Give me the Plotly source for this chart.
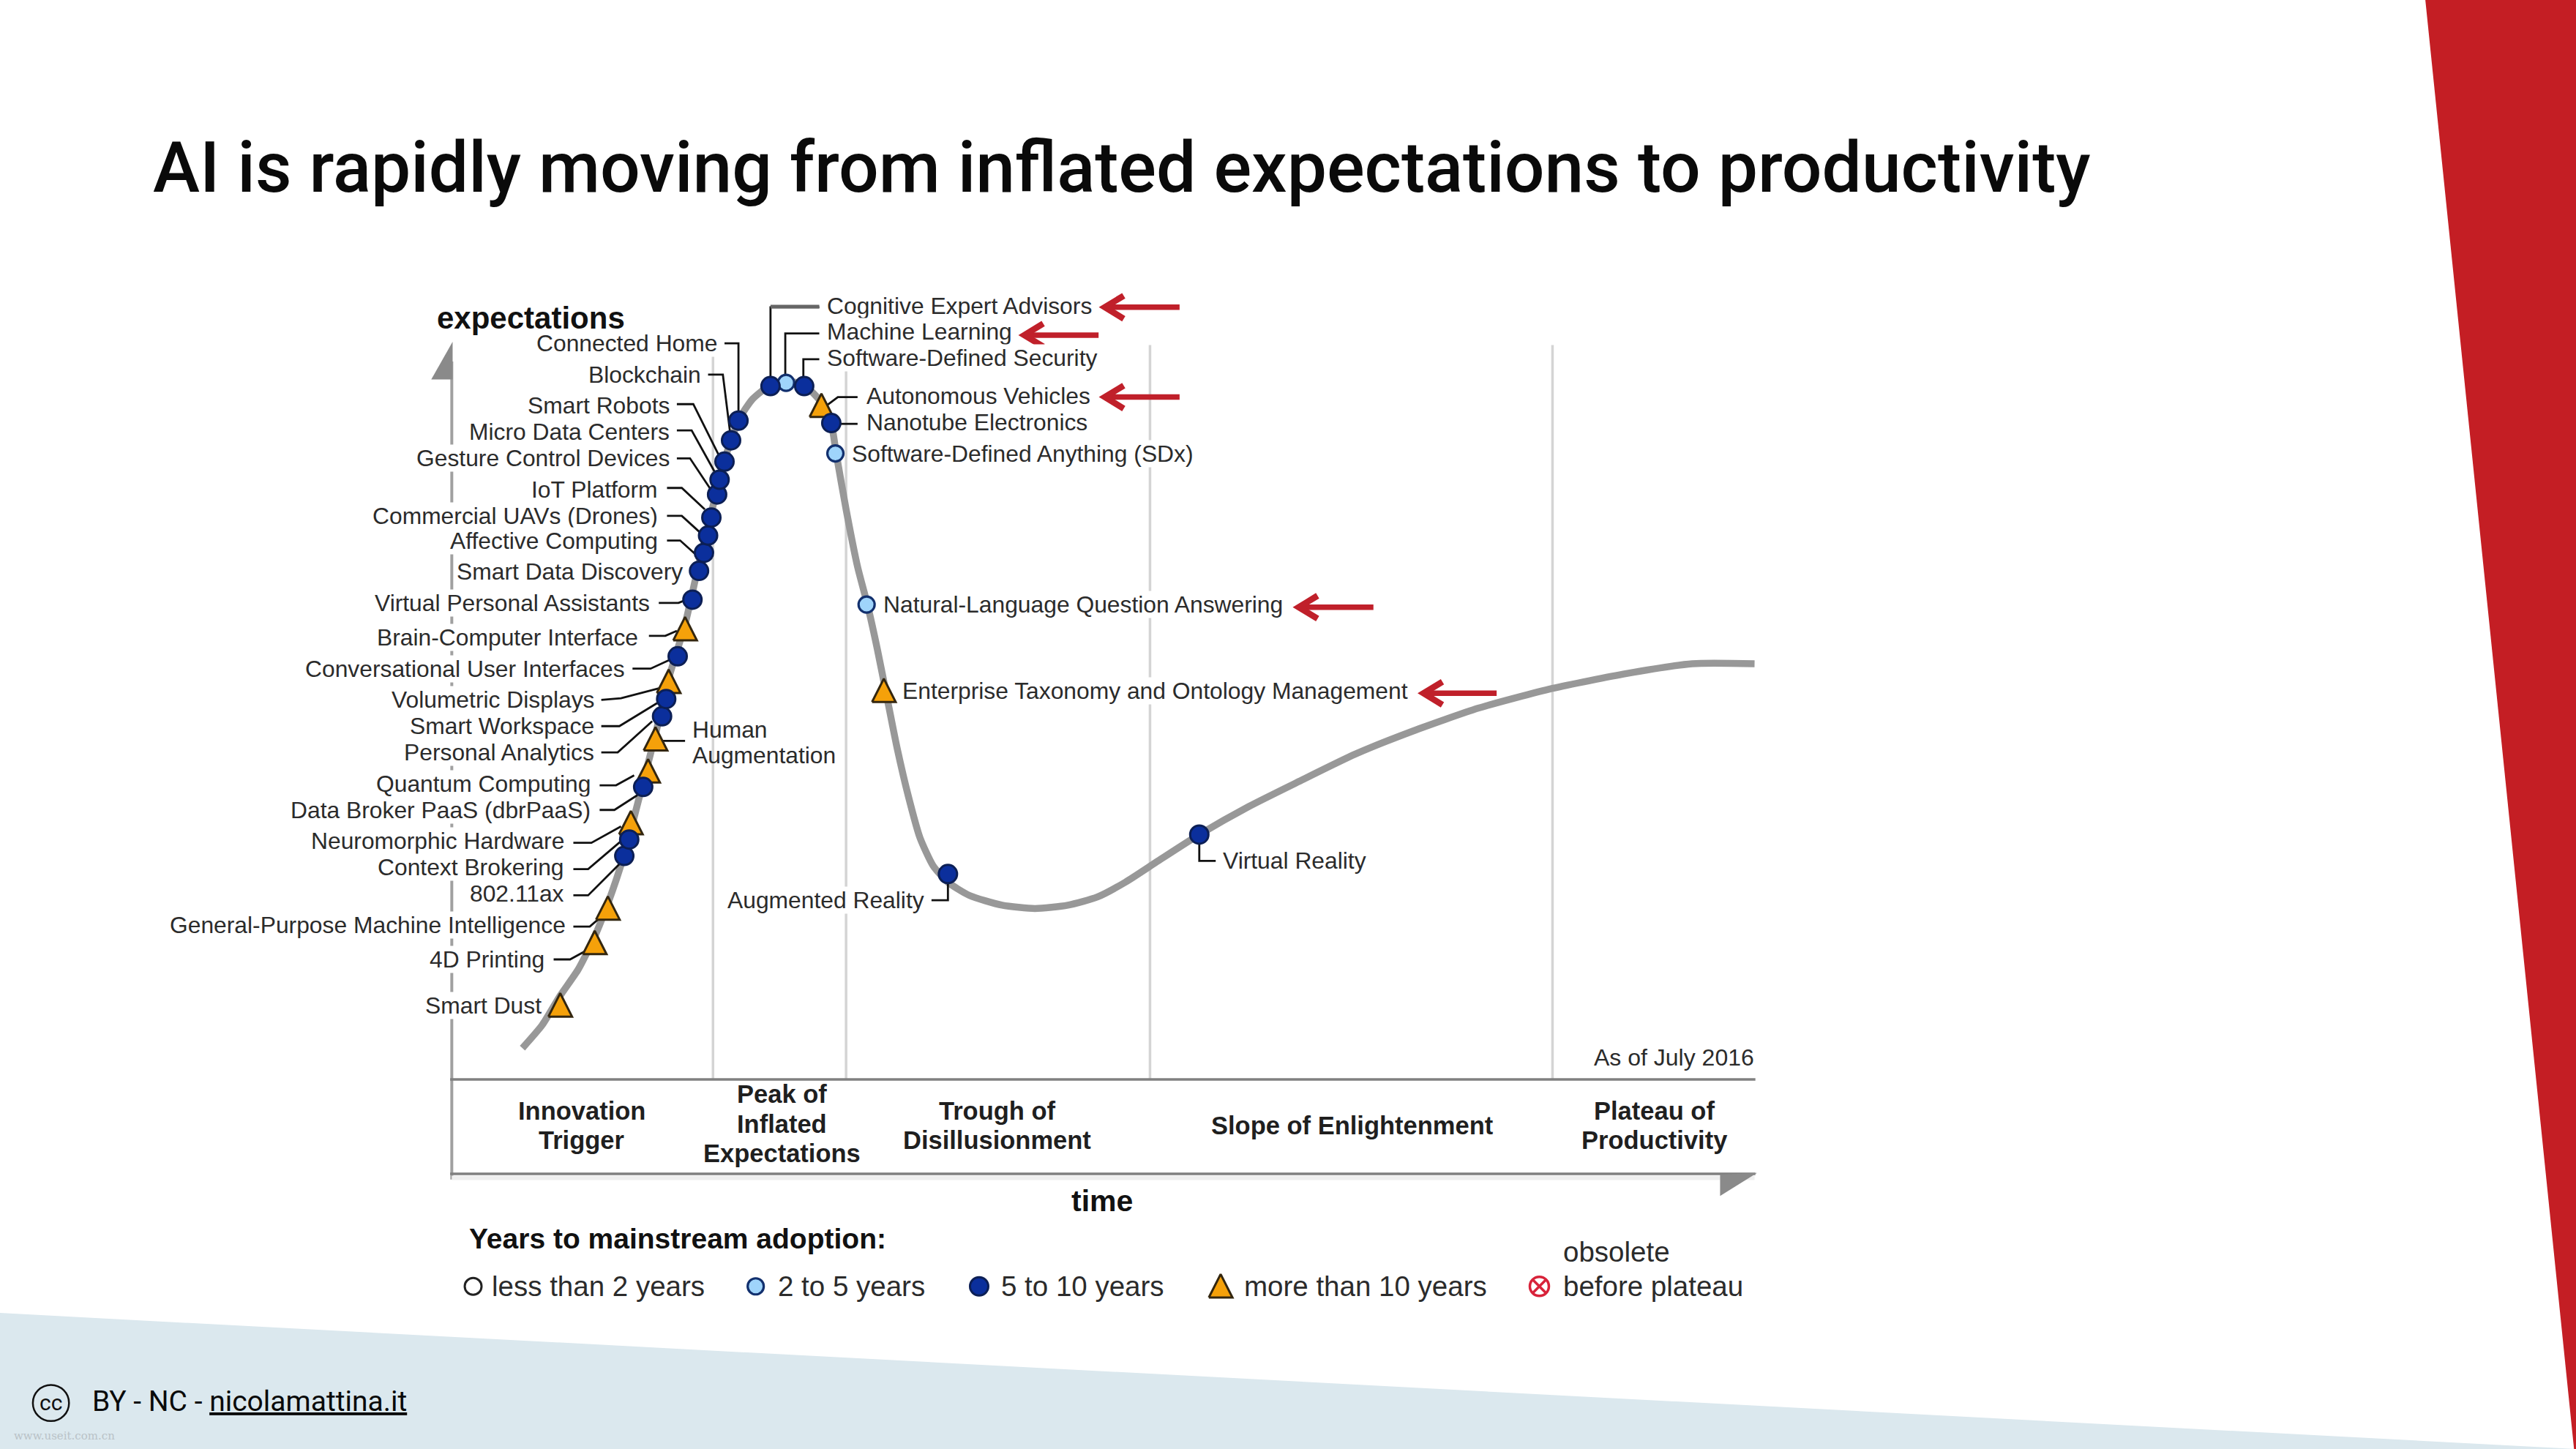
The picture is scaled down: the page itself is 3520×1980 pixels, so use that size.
import plotly.graph_objects as go

# ---------- data: time / expectations units ----------
curve_time = [43,55,66,77,87,95,105,116,124,132,142,150,158,166,175,183,193,203,214,225,231,234,240,247,253,259,265,271,278,285,293,302,315,335,355,375,393,410,430,455,485,515,550,585,625,670,715,755,793]
curve_expect = [19,33,51,67,87,107,137,179,210,244,277,312,345,377,402,414,422,425,423,412,399,381,347,312,289,262,232,202,172,147,130,120,112,106,104,106,111,120,133,149,166,181,198,212,226,238,247,253,253]

tech_names = ["Smart Dust","4D Printing","General-Purpose Machine Intelligence","802.11ax","Context Brokering","Neuromorphic Hardware","Data Broker PaaS (dbrPaaS)","Quantum Computing","Human Augmentation","Personal Analytics","Smart Workspace","Volumetric Displays","Conversational User Interfaces","Brain-Computer Interface","Virtual Personal Assistants","Smart Data Discovery","Affective Computing","Commercial UAVs (Drones)","IoT Platform","Gesture Control Devices","Micro Data Centers","Smart Robots","Blockchain","Connected Home","Cognitive Expert Advisors","Machine Learning","Software-Defined Security","Autonomous Vehicles","Nanotube Electronics","Software-Defined Anything (SDx)","Natural-Language Question Answering","Enterprise Taxonomy and Ontology Management","Augmented Reality","Virtual Reality"]
tech_time = [66,87,95,105,108,109,116.5,119.5,124,128,130.5,132,137.5,142,146.5,150.5,153.5,156,158,161.5,163,166,170,174.5,194,203.5,214.5,225,231,233.5,252.5,263,302,455]
tech_expect = [45,83,104,136,146,156,178,187.5,207,221,231.5,242,257.5,274,292,309.5,320.5,331,342,356,365,376,389,401,422,424,422,410,399.5,381,289,236.5,125,149]
tech_class = ["10+","10+","10+","5-10","5-10","10+","5-10","10+","10+","5-10","5-10","10+","5-10","10+","5-10","5-10","5-10","5-10","5-10","5-10","5-10","5-10","5-10","5-10","5-10","2-5","5-10","10+","5-10","2-5","2-5","10+","5-10","5-10"]

phase_names = [["Innovation","Trigger"],["Peak of","Inflated","Expectations"],["Trough of","Disillusionment"],["Slope of Enlightenment"],["Plateau of","Productivity"]]
phase_bounds = [159,240,425,670]
legend_labels = ["less than 2 years","2 to 5 years","5 to 10 years","more than 10 years","before plateau"]
highlighted = ["Cognitive Expert Advisors","Machine Learning","Autonomous Vehicles","Natural-Language Question Answering","Enterprise Taxonomy and Ontology Management"]

# ---------- layout helpers (slide units: 1568 x 882) ----------
W, H = 3520, 1980
def X(p): return p - 275
def Y(p): return 657 - p

LF = "Liberation Sans"
LABEL = "#2b2b2b"
fig = go.Figure()
shapes, ann = [], []

def label(txt, px, py, anchor, size=31.8, color=LABEL, bg=None, weight=None, family=LF):
    f = dict(family=family, size=size, color=color)
    if weight: f["weight"] = weight
    a = dict(text=txt, x=X(px), y=Y(py), xref="x", yref="y", xanchor=anchor, yanchor="middle",
             showarrow=False, font=f, borderpad=0, align="center" if anchor == "center" else ("right" if anchor == "right" else "left"))
    if bg: a["bgcolor"] = bg
    ann.append(a)

def poly(pts, fill):
    path = "M " + " L ".join(f"{X(a)} {Y(b)}" for a, b in pts) + " Z"
    shapes.append(dict(type="path", xref="x", yref="y", path=path, fillcolor=fill,
                       line=dict(width=0), layer="below"))

def seg(x0, y0, x1, y1, color, width):
    shapes.append(dict(type="line", xref="x", yref="y", x0=X(x0), y0=Y(y0), x1=X(x1), y1=Y(y1),
                       line=dict(color=color, width=width), layer="below"))

def triangles(ts, es):
    xs, ys = [], []
    for t, e in zip(ts, es):
        xs += [t - 7.2, t + 7.2, t, t - 7.2, None]
        ys += [e - 6.8, e - 6.8, e + 7.4, e - 6.8, None]
    fig.add_trace(go.Scatter(x=xs, y=ys, mode="lines", fill="toself", fillcolor="#f5a10a",
                             line=dict(color="#33260f", width=3), hoverinfo="skip"))

# slide background furniture
poly([(0, 799.2), (1568, 882), (0, 882)], "#dbe8ee")
poly([(1476.3, 0), (1568, 0), (1568, 882), (1566.8, 882)], "#c41e24")

# chart frame
for b in phase_bounds:
    seg(b + 275, 210, b + 275, 657, "#d4d4d4", 3.5)
seg(275, 718, 275, 220, "#a0a0a0", 4)
seg(275, 717, 1068, 717, "#efefef", 6)
seg(274, 657, 1068.5, 657, "#808080", 3.5)
seg(274, 714.5, 1068.5, 714.5, "#808080", 3.5)
poly([(275.5, 208), (275.5, 231), (262.5, 231)], "#8a8a8a")
poly([(1047, 715), (1069.5, 714), (1047, 728)], "#8a8a8a")

# hype curve
fig.add_trace(go.Scatter(x=curve_time, y=curve_expect, mode="lines", hoverinfo="skip",
                         line=dict(color="#989898", width=9.5, shape="spline", smoothing=0.6)))

# leaders (slide units)
leaders = [
 [(441,209),(449.5,209),(449.5,250)], [(431,228),(440,228),(444.5,264)],
 [(412,246),(422,246),(438,278)], [(412,262),(421,262),(436,289)], [(412,279),(420,279),(434,300)],
 [(406,297),(415,297),(429,310)], [(406,314),(415,314),(426,324)], [(406,329),(414,329),(424,338)],
 [(401,367),(413,367),(418,365)], [(395,387),(405,387),(412,384)], [(385,407),(396,407),(409,401)],
 [(366,426),(378,425),(401,419)], [(366,442),(377,442),(400,428)], [(366,458),(376,458),(397,439)],
 [(365,478),(375,478),(386,472)], [(365,493),(374,493),(388,484)],
 [(349,513),(360,513),(378,503)], [(349,529),(358,529),(378,512)], [(349,545),(358,545),(377,526)],
 [(349,564),(359,564),(366,558)], [(337,584),(347,584),(358,578)],
 [(403,451),(417,451)],
 [(498.7,187),(469,187),(469,230)], [(498.7,203),(478,203),(478,230)], [(498.7,218.7),(489,218.7),(489,230)],
 [(522,241.7),(510,241.7),(503,247)], [(510,258),(522,258)],
 [(730,512),(730,524),(740,524)], [(567,548),(577,548),(577,535)],
]
for pts in leaders:
    fig.add_trace(go.Scatter(x=[X(a) for a, _ in pts], y=[Y(b) for _, b in pts], mode="lines",
                             hoverinfo="skip", line=dict(color="#111111", width=2.8)))
fig.add_trace(go.Scatter(x=[X(469), X(498.7)], y=[Y(186.6), Y(186.6)], mode="lines", hoverinfo="skip",
                         line=dict(color="#666666", width=5)))

# technology markers
styles = {
 "2-5": dict(symbol="circle", size=22, color="#9fd4fb", line=dict(color="#12306e", width=3.2)),
 "5-10": dict(symbol="circle", size=25, color="#0b2f9c", line=dict(color="#0c1f55", width=3)),
}
tri_idx = [i for i, c in enumerate(tech_class) if c == "10+"]
triangles([tech_time[i] for i in tri_idx], [tech_expect[i] for i in tri_idx])
for cls, st in styles.items():
    idx = [i for i, c in enumerate(tech_class) if c == cls]
    fig.add_trace(go.Scatter(x=[tech_time[i] for i in idx], y=[tech_expect[i] for i in idx],
                             text=[tech_names[i] for i in idx], mode="markers", marker=st, hoverinfo="text"))

# labels for the technologies (slide units)
left_labels = {
 "Connected Home":(437,209),"Blockchain":(427,228),"Smart Robots":(408,247),"Micro Data Centers":(408,263),
 "Gesture Control Devices":(408,279),"IoT Platform":(401,298),"Commercial UAVs (Drones)":(401,314),
 "Affective Computing":(401,329),"Smart Data Discovery":(416,348),"Virtual Personal Assistants":(396,367),
 "Brain-Computer Interface":(389,388),"Conversational User Interfaces":(381,407),"Volumetric Displays":(362,426),
 "Smart Workspace":(362,442),"Personal Analytics":(362,458),"Quantum Computing":(360,477),
 "Data Broker PaaS (dbrPaaS)":(360,493),"Neuromorphic Hardware":(344,512),"Context Brokering":(344,528),
 "802.11ax":(344,544),"General-Purpose Machine Intelligence":(345,563),"4D Printing":(332,584),
 "Smart Dust":(330,612),"Augmented Reality":(563,548),
}
right_labels = {
 "Cognitive Expert Advisors":(503,186),"Machine Learning":(503,202),"Software-Defined Security":(503,218),
 "Autonomous Vehicles":(527,241),"Nanotube Electronics":(527,257),"Software-Defined Anything (SDx)":(518,276),
 "Natural-Language Question Answering":(537,368),"Enterprise Taxonomy and Ontology Management":(549,420.5),
 "Virtual Reality":(744,524),
}
for n, (a, b) in left_labels.items():
    label(n, a, b, "right", bg="white")
for n, (a, b) in right_labels.items():
    label(n, a, b, "left", bg="white")
label("Human", 421, 444, "left")
label("Augmentation", 421, 459.5, "left")

# red arrows
arrow_pos = {highlighted[0]:(671,718,187), highlighted[1]:(622,668.7,204), highlighted[2]:(671,718,241.7),
             highlighted[3]:(789,836,369.6), highlighted[4]:(865,911,422)}
for tip, tail, yy in arrow_pos.values():
    fig.add_trace(go.Scatter(x=[X(tail), X(tip+3)], y=[Y(yy), Y(yy)], mode="lines", hoverinfo="skip",
                             line=dict(color="#c0202a", width=7.5)))
    fig.add_trace(go.Scatter(x=[X(tip+13), X(tip+1.5), X(tip+13)], y=[Y(yy-7), Y(yy), Y(yy+7)], mode="lines",
                             hoverinfo="skip", line=dict(color="#c0202a", width=8.5)))

# phases and axis titles
phase_center = [354, 476, 607, 823, 1007]
phase_mid = [685, 684, 685, 685, 685]
for lines, cx, cy in zip(phase_names, phase_center, phase_mid):
    for k, ln in enumerate(lines):
        label(ln, cx, cy + (k - (len(lines) - 1) / 2) * 18, "center", size=34.5, color="#1f1f1f", weight=700)
label("expectations", 323, 193.5, "center", size=42, color="#111111", weight=700)
label("time", 671, 731, "center", size=41, color="#111111", weight=700)
label("As of July 2016", 1068, 643.5, "right", size=32)
label("Years to mainstream adoption:", 285, 754, "left", size=39, color="#111111", weight=700)

# legend
leg_marker_x = [288, 460, 596, 937]
leg_text_x = [299, 473, 609, 757, 951]
leg_styles = [dict(symbol="circle", size=23, color="white", line=dict(color="#222222", width=3)),
              styles["2-5"], styles["5-10"],
              dict(symbol="circle-x-open", size=26, color="#d8233a", line=dict(color="#d8233a", width=3.5))]
for mx, st in zip(leg_marker_x, leg_styles):
    fig.add_trace(go.Scatter(x=[X(mx)], y=[Y(783)], mode="markers", marker=st, hoverinfo="skip"))
triangles([X(743)], [Y(783)])
for tx, t in zip(leg_text_x, legend_labels):
    label(t, tx, 783, "left", size=38.5)
label("obsolete", 951, 762, "left", size=38.5)

# slide title and footer
label("AI is rapidly moving from inflated expectations to productivity", 92.5, 102, "left", size=96.5,
      color="#0a0a0a", weight=500, family="Roboto")
label("BY - NC - <u>nicolamattina.it</u>", 55.5, 853, "left", size=39, color="#0a0a0a", family="Roboto")
label("cc", 31, 853.5, "center", size=30, color="#111111", family="Roboto")
shapes.append(dict(type="circle", xref="x", yref="y", x0=X(20), x1=X(42), y0=Y(843), y1=Y(865),
                   line=dict(color="#111111", width=2.5), layer="above"))
label("www.useit.com.cn", 8, 874, "left", size=15, color="#b9c2c7", family="DejaVu Serif")

fig.update_layout(
    width=W, height=H, margin=dict(l=0, r=0, t=0, b=0), showlegend=False,
    paper_bgcolor="white", plot_bgcolor="rgba(0,0,0,0)",
    xaxis=dict(range=[-275, 1293], domain=[0, 1], visible=False, fixedrange=True),
    yaxis=dict(range=[-225, 657], domain=[0, 1], visible=False, fixedrange=True),
    shapes=shapes, annotations=ann,
)
fig.write_html("out.html", config=dict(displayModeBar=False),
               post_script="document.body.style.margin='0';document.body.style.overflow='hidden';")
